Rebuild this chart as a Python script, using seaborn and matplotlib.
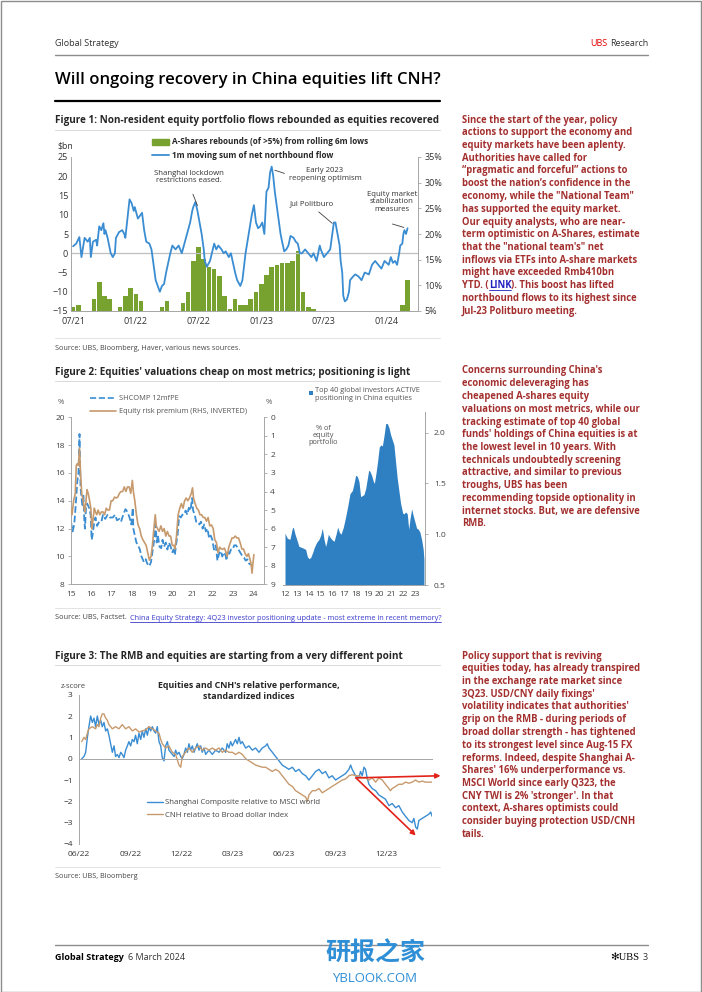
import matplotlib
matplotlib.use("Agg")
import matplotlib.pyplot as plt
from matplotlib.lines import Line2D
from matplotlib.patches import Patch, Rectangle
import seaborn as sns

# ---------------- Figure 1 data (x = months since Jul-21) ----------------
nb_flow = [(0.0, 1.8), (0.3, 2.5), (0.6, 4.2), (0.8, -1.0), (1.1, 4.0), (1.4, 3.0), (1.6, 4.0),
           (1.7, -1.0), (1.9, 3.0), (2.2, 3.5), (2.3, 2.0), (2.5, 7.0), (2.7, 6.0), (2.9, 7.8),
           (3.0, 5.0), (3.1, 6.0), (3.3, 4.0), (3.6, 0.0), (3.8, -1.0), (4.0, 0.0), (4.1, 4.0),
           (4.4, 5.5), (4.7, 6.0), (4.9, 5.0), (5.0, 4.0), (5.4, 14.0), (5.6, 13.0), (5.8, 11.0),
           (5.9, 12.0), (6.2, 9.0), (6.6, 10.5), (6.8, 6.0), (7.0, 3.0), (7.3, 2.5), (7.5, 1.0),
           (7.7, -3.0), (7.9, -7.0), (8.3, -10.0), (8.5, -8.5), (8.7, -8.0), (8.9, -5.0), (9.3, 0.0),
           (9.5, 2.0), (9.8, 1.0), (10.1, 2.0), (10.4, 0.0), (10.6, 2.0), (11.0, 6.0), (11.2, 8.0),
           (11.4, 11.0), (11.5, 12.0), (11.7, 13.3), (11.9, 11.0), (12.1, 8.0), (12.3, 5.0),
           (12.5, 1.0), (12.6, -2.0), (12.8, -3.5), (13.1, -2.0), (13.5, 2.5), (13.7, 1.0),
           (13.9, 2.0), (14.2, 1.0), (14.4, 0.0), (14.6, 0.5), (14.9, -1.0), (15.1, 0.0),
           (15.5, -5.0), (15.7, -7.0), (16.0, -8.5), (16.2, -7.0), (16.5, 0.0), (16.8, 5.0),
           (17.1, 10.0), (17.3, 12.5), (17.5, 8.0), (17.7, 6.5), (17.9, 7.0), (18.1, 8.0),
           (18.3, 5.0), (18.5, 16.0), (18.7, 17.0), (18.85, 21.0), (19.0, 22.5), (19.15, 20.0),
           (19.3, 16.0), (19.5, 12.0), (19.7, 8.0), (19.85, 5.0), (20.0, 3.0), (20.2, 0.5),
           (20.4, 1.0), (20.6, 2.0), (20.8, 4.5), (21.1, 4.0), (21.3, 3.0), (21.5, 2.5),
           (21.7, 0.0), (21.9, 0.0), (22.2, 1.0), (22.5, 0.0), (22.8, -1.0), (23.0, 0.0),
           (23.3, -2.0), (23.6, 2.0), (23.7, 1.0), (24.0, -1.0), (24.3, 0.0), (24.6, 1.0),
           (24.8, 5.0), (24.95, 8.0), (25.1, 8.0), (25.3, 5.0), (25.5, 2.0), (25.6, -2.0),
           (25.75, -5.0), (25.85, -11.0), (26.0, -12.5), (26.2, -12.0), (26.4, -10.0),
           (26.5, -7.0), (26.8, -6.0), (27.0, -5.5), (27.3, -6.0), (27.6, -7.0), (27.9, -5.0),
           (28.3, -5.5), (28.6, -3.0), (28.9, -2.0), (29.2, -3.0), (29.5, -4.0), (29.8, -2.0),
           (30.2, -3.0), (30.4, -1.0), (30.6, -2.5), (30.8, -2.0), (31.0, -3.0), (31.2, 0.0),
           (31.3, 2.0), (31.5, 2.5), (31.6, 5.0), (31.7, 6.0), (31.85, 5.0), (32.0, 6.5)]

rebound_month = [0.0, 0.5, 2.0, 2.5, 3.0, 3.5, 4.5, 5.0, 5.5, 6.0, 6.5, 8.5, 9.0, 10.5, 11.0,
                 11.5, 12.0, 12.5, 13.0, 13.5, 14.0, 14.5, 15.0, 15.5, 16.0, 16.5, 17.0, 17.5,
                 18.0, 18.5, 19.0, 19.5, 20.0, 20.5, 21.0, 21.5, 22.0, 22.5, 23.0, 31.5, 32.0]
rebound_pct = [5.75, 6.1, 7.25, 10.6, 8.0, 7.25, 5.75, 8.0, 9.5, 8.4, 6.9, 5.75, 6.9, 6.5, 8.75,
               14.75, 17.4, 15.1, 13.6, 13.25, 11.75, 8.0, 5.4, 7.25, 6.1, 6.1, 7.25, 8.75,
               10.25, 12.1, 13.6, 14.0, 14.4, 14.4, 14.75, 16.6, 8.75, 5.75, 5.4, 6.1, 11.0]

fig1_ticks = [0, 6, 12, 18, 24, 30]
fig1_labels = ["07/21", "01/22", "07/22", "01/23", "07/23", "01/24"]

# ---------------- Figure 2 data (x = year, 15 = 2015) ----------------
shcomp_pe = [(15.0, 12.5), (15.05, 12.0), (15.08, 11.8), (15.16, 12.3), (15.24, 13.8), (15.31, 15.4),
             (15.37, 16.0), (15.42, 18.8), (15.47, 15.0), (15.5, 14.5), (15.56, 13.7), (15.61, 14.5),
             (15.66, 12.5), (15.69, 12.0), (15.74, 13.5), (15.8, 13.8), (15.89, 13.5), (15.97, 13.0),
             (16.02, 11.2), (16.06, 11.5), (16.15, 12.5), (16.21, 12.8), (16.29, 12.2), (16.39, 12.5),
             (16.5, 12.5), (16.58, 13.0), (16.69, 12.7), (16.81, 13.0), (16.92, 12.8), (17.06, 12.8),
             (17.18, 13.0), (17.27, 12.6), (17.39, 12.7), (17.47, 12.5), (17.58, 13.0), (17.69, 13.4),
             (17.79, 13.2), (17.89, 12.8), (17.98, 12.3), (18.05, 13.5), (18.08, 12.0), (18.15, 11.5),
             (18.23, 11.0), (18.31, 10.8), (18.4, 10.5), (18.48, 10.0), (18.6, 9.6), (18.69, 9.8),
             (18.76, 9.5), (18.87, 9.3), (18.95, 9.6), (19.02, 10.3), (19.11, 11.2), (19.18, 12.3),
             (19.23, 11.0), (19.29, 11.5), (19.37, 10.7), (19.45, 10.6), (19.52, 11.2), (19.6, 10.7),
             (19.68, 11.0), (19.76, 10.5), (19.84, 11.0), (19.92, 10.7), (20.0, 10.3), (20.06, 10.5),
             (20.13, 10.1), (20.18, 10.8), (20.26, 11.5), (20.34, 12.9), (20.42, 12.8), (20.5, 13.0),
             (20.58, 13.0), (20.66, 13.3), (20.74, 13.0), (20.82, 13.5), (20.9, 13.3), (20.98, 14.2),
             (21.03, 13.3), (21.11, 13.0), (21.18, 12.5), (21.26, 12.5), (21.34, 12.3), (21.42, 12.5),
             (21.5, 12.0), (21.58, 12.3), (21.66, 11.8), (21.74, 12.0), (21.82, 11.3), (21.9, 11.5),
             (21.98, 11.2), (22.06, 10.5), (22.15, 10.8), (22.23, 9.7), (22.31, 10.2), (22.39, 10.4),
             (22.47, 10.0), (22.55, 10.3), (22.63, 10.1), (22.68, 9.7), (22.74, 10.4), (22.82, 10.2),
             (22.9, 10.5), (22.98, 10.5), (23.06, 10.8), (23.15, 10.8), (23.23, 10.6), (23.31, 10.4),
             (23.39, 10.2), (23.47, 10.0), (23.55, 9.9), (23.63, 9.7), (23.71, 9.8), (23.79, 9.5),
             (23.87, 9.4)]

erp_inv = [(15.0, 4.9), (15.05, 5.25), (15.13, 4.5), (15.21, 4.1), (15.26, 2.6), (15.31, 2.5),
           (15.37, 2.6), (15.42, 1.65), (15.47, 3.0), (15.53, 4.1), (15.6, 4.5), (15.65, 4.9),
           (15.69, 5.1), (15.74, 4.5), (15.79, 3.9), (15.85, 4.1), (15.92, 4.5), (15.98, 4.9),
           (16.03, 6.0), (16.08, 5.6), (16.15, 4.9), (16.21, 5.1), (16.27, 5.25), (16.34, 5.0),
           (16.42, 5.25), (16.5, 5.1), (16.58, 5.1), (16.66, 5.25), (16.74, 4.9), (16.82, 5.0),
           (16.9, 5.0), (16.98, 4.5), (17.06, 4.5), (17.15, 4.3), (17.23, 4.35), (17.31, 4.3),
           (17.39, 4.1), (17.47, 4.0), (17.55, 4.0), (17.63, 3.75), (17.71, 4.0), (17.79, 3.75),
           (17.87, 3.75), (17.95, 4.1), (18.03, 3.4), (18.08, 4.0), (18.15, 4.5), (18.23, 5.25),
           (18.31, 5.8), (18.39, 6.0), (18.47, 6.4), (18.55, 6.6), (18.63, 6.75), (18.71, 6.9),
           (18.79, 7.3), (18.87, 7.7), (18.95, 7.5), (19.02, 6.9), (19.08, 6.15), (19.16, 5.25),
           (19.21, 5.85), (19.27, 6.0), (19.35, 6.15), (19.44, 5.85), (19.52, 6.15), (19.6, 6.0),
           (19.68, 6.4), (19.76, 6.15), (19.84, 6.4), (19.92, 6.4), (20.0, 6.9), (20.08, 6.9),
           (20.13, 7.1), (20.21, 6.4), (20.29, 5.25), (20.37, 4.9), (20.45, 4.65), (20.53, 4.9),
           (20.61, 4.5), (20.69, 4.35), (20.77, 4.5), (20.85, 4.35), (20.94, 4.1), (21.0, 3.8),
           (21.05, 4.35), (21.13, 4.65), (21.21, 4.9), (21.29, 5.0), (21.37, 5.25), (21.45, 5.25),
           (21.53, 5.4), (21.61, 5.4), (21.69, 5.6), (21.77, 5.4), (21.85, 5.85), (21.94, 5.8),
           (22.02, 6.0), (22.1, 6.6), (22.18, 6.75), (22.26, 7.3), (22.34, 7.0), (22.42, 7.1),
           (22.5, 7.1), (22.58, 7.05), (22.66, 7.3), (22.71, 7.5), (22.79, 7.0), (22.87, 6.75),
           (22.95, 6.5), (23.03, 6.5), (23.11, 6.4), (23.19, 6.5), (23.27, 6.5), (23.35, 6.75),
           (23.44, 7.1), (23.52, 7.1), (23.6, 7.35), (23.68, 7.5), (23.76, 7.35), (23.84, 7.65),
           (23.89, 7.9), (23.94, 8.4), (23.98, 7.9), (24.03, 7.4)]

top40_pos = [(12.0, 1.01), (12.2, 0.96), (12.42, 0.95), (12.62, 1.06), (12.7, 1.07), (12.85, 1.0),
             (12.99, 0.95), (13.18, 0.88), (13.41, 0.87), (13.6, 0.86), (13.75, 0.85), (13.89, 0.78),
             (14.03, 0.76), (14.17, 0.77), (14.34, 0.82), (14.48, 0.87), (14.68, 0.92), (14.88, 0.95),
             (15.02, 0.99), (15.16, 1.06), (15.3, 0.95), (15.44, 0.88), (15.53, 0.92), (15.67, 1.0),
             (15.81, 0.97), (15.95, 0.95), (16.15, 0.93), (16.32, 1.0), (16.46, 1.07), (16.6, 1.02),
             (16.74, 1.0), (16.94, 1.07), (17.13, 1.17), (17.3, 1.27), (17.5, 1.4), (17.7, 1.43),
             (17.84, 1.5), (17.98, 1.58), (18.12, 1.57), (18.26, 1.52), (18.4, 1.37), (18.54, 1.38),
             (18.68, 1.39), (18.83, 1.45), (18.97, 1.55), (19.08, 1.63), (19.19, 1.62), (19.33, 1.58),
             (19.48, 1.52), (19.56, 1.5), (19.7, 1.6), (19.84, 1.72), (19.98, 1.86), (20.12, 1.88),
             (20.24, 1.87), (20.38, 1.97), (20.52, 2.09), (20.66, 2.09), (20.8, 2.05), (20.94, 1.98),
             (21.08, 1.93), (21.22, 1.88), (21.37, 1.7), (21.5, 1.55), (21.65, 1.42), (21.79, 1.3),
             (21.96, 1.21), (22.07, 1.2), (22.21, 1.22), (22.35, 1.2), (22.47, 1.05), (22.58, 1.15),
             (22.72, 1.25), (22.86, 1.18), (23.0, 1.12), (23.14, 1.06), (23.28, 1.05), (23.42, 1.02),
             (23.56, 0.95), (23.7, 0.85), (23.76, 0.75)]

fig2_left_years = [15, 16, 17, 18, 19, 20, 21, 22, 23, 24]
fig2_right_years = [12, 13, 14, 15, 16, 17, 18, 19, 20, 21, 22, 23]

# ---------------- Figure 3 data (x = months since Jun-22, z-scores) ----------------
sh_rel = [(0.16, 0.0), (0.29, 0.1), (0.39, 0.3), (0.49, 1.0), (0.58, 1.5), (0.68, 2.0), (0.78, 1.7),
          (0.88, 1.9), (0.97, 1.5), (1.07, 2.0), (1.17, 1.6), (1.27, 1.8), (1.36, 1.5), (1.46, 1.7),
          (1.56, 1.3), (1.66, 1.4), (1.75, 1.1), (1.85, 0.7), (1.95, 0.3), (2.05, 0.6), (2.14, 0.1),
          (2.24, 0.2), (2.34, 0.05), (2.44, 0.3), (2.53, 0.2), (2.63, 0.05), (2.73, 0.4), (2.83, 0.6),
          (2.92, 0.8), (3.02, 0.6), (3.12, 0.9), (3.22, 0.8), (3.31, 1.1), (3.41, 0.7), (3.51, 1.2),
          (3.61, 0.9), (3.70, 1.3), (3.80, 1.0), (3.90, 1.4), (4.0, 1.1), (4.09, 1.5), (4.19, 1.3),
          (4.29, 1.5), (4.39, 1.3), (4.48, 1.2), (4.58, 1.5), (4.68, 0.8), (4.78, 0.6), (4.87, 0.05),
          (4.97, -0.1), (5.07, 0.6), (5.17, 0.8), (5.26, 0.4), (5.36, 0.3), (5.46, 0.2), (5.56, 0.1),
          (5.65, 0.4), (5.75, 0.2), (5.85, 0.3), (5.95, 0.1), (6.04, 0.0), (6.14, 0.2), (6.24, 0.5),
          (6.34, 0.3), (6.43, 0.7), (6.53, 0.4), (6.63, 0.6), (6.73, 0.3), (6.82, 0.5), (6.92, 0.7),
          (7.02, 0.4), (7.12, 0.6), (7.21, 0.3), (7.31, 0.5), (7.41, 0.2), (7.60, 0.4), (7.80, 0.2),
          (7.99, 0.4), (8.19, 0.3), (8.38, 0.5), (8.58, 0.3), (8.67, 0.7), (8.77, 0.5), (8.87, 0.8),
          (8.97, 0.6), (9.16, 0.9), (9.26, 0.7), (9.36, 1.0), (9.45, 0.7), (9.55, 0.8), (9.75, 0.5),
          (9.94, 0.6), (10.14, 0.4), (10.33, 0.5), (10.53, 0.3), (10.72, 0.5), (10.92, 0.6),
          (11.01, 0.7), (11.11, 0.5), (11.31, 0.3), (11.50, 0.1), (11.70, -0.1), (11.89, -0.3),
          (12.09, -0.4), (12.28, -0.5), (12.48, -0.4), (12.67, -0.6), (12.87, -0.5), (13.06, -0.7),
          (13.26, -0.8), (13.45, -1.0), (13.65, -0.8), (13.84, -0.6), (14.04, -0.5), (14.23, -0.7),
          (14.42, -0.6), (14.62, -0.9), (14.81, -0.8), (15.01, -1.0), (15.20, -0.9), (15.40, -0.8),
          (15.59, -0.7), (15.79, -0.5), (15.89, -0.3), (15.98, -0.5), (16.18, -0.8), (16.37, -0.9),
          (16.47, -0.6), (16.57, -0.8), (16.67, -0.4), (16.76, -0.5), (16.86, -0.9), (16.96, -1.2),
          (17.15, -1.4), (17.35, -1.5), (17.54, -1.7), (17.74, -1.8), (17.93, -1.9), (18.13, -2.2),
          (18.32, -2.1), (18.52, -2.3), (18.71, -2.2), (18.91, -2.5), (19.10, -2.7), (19.30, -2.9),
          (19.49, -3.0), (19.59, -2.8), (19.69, -3.2), (19.79, -3.3), (19.88, -2.9), (20.08, -2.8),
          (20.27, -2.7), (20.47, -2.6), (20.57, -2.5), (20.66, -2.7)]

cnh_rel = [(0.16, 0.8), (0.29, 1.0), (0.39, 0.9), (0.49, 1.2), (0.58, 1.4), (0.78, 1.5), (0.97, 1.4),
           (1.07, 1.6), (1.17, 1.5), (1.27, 1.9), (1.36, 2.1), (1.46, 2.1), (1.56, 1.9), (1.66, 1.8),
           (1.75, 1.6), (1.85, 1.5), (1.95, 1.4), (2.14, 1.5), (2.34, 1.4), (2.53, 1.6), (2.73, 1.4),
           (2.92, 1.5), (3.12, 1.3), (3.31, 1.4), (3.51, 1.25), (3.70, 1.3), (3.90, 1.35), (4.09, 1.5),
           (4.29, 1.4), (4.48, 1.3), (4.68, 1.2), (4.78, 0.9), (4.87, 0.7), (5.07, 0.5), (5.26, 0.6),
           (5.46, 0.3), (5.65, 0.2), (5.85, -0.3), (5.95, -0.4), (6.04, 0.1), (6.24, 0.3), (6.43, 0.5),
           (6.63, 0.3), (6.82, 0.5), (7.02, 0.6), (7.21, 0.4), (7.41, 0.5), (7.60, 0.4), (7.80, 0.5),
           (7.99, 0.4), (8.19, 0.5), (8.38, 0.3), (8.58, 0.4), (8.77, 0.3), (8.97, 0.3), (9.16, 0.2),
           (9.36, 0.3), (9.55, 0.2), (9.75, 0.0), (9.94, -0.1), (10.14, -0.2), (10.33, -0.3),
           (10.53, -0.35), (10.72, -0.4), (10.92, -0.4), (11.11, -0.5), (11.31, -0.6), (11.50, -0.5),
           (11.70, -0.6), (11.89, -0.8), (12.09, -1.0), (12.28, -1.2), (12.48, -1.3), (12.67, -1.5),
           (12.87, -1.6), (13.06, -1.7), (13.26, -1.8), (13.36, -2.0), (13.45, -1.7), (13.65, -1.5),
           (13.84, -1.5), (14.04, -1.4), (14.23, -1.6), (14.42, -1.5), (14.62, -1.4), (14.81, -1.3),
           (15.01, -1.2), (15.20, -1.1), (15.40, -1.0), (15.59, -0.95), (15.79, -0.8), (15.98, -0.75),
           (16.18, -0.8), (16.37, -0.8), (16.57, -0.9), (16.76, -0.9), (16.96, -1.0), (17.15, -0.9),
           (17.35, -1.1), (17.54, -0.9), (17.74, -1.0), (17.93, -1.2), (18.13, -1.4), (18.22, -1.5),
           (18.32, -1.4), (18.52, -1.3), (18.71, -1.2), (18.91, -1.2), (19.10, -1.1), (19.30, -1.15),
           (19.49, -1.1), (19.69, -1.0), (19.88, -1.1), (20.08, -1.05), (20.27, -1.1), (20.47, -1.1),
           (20.66, -1.1)]

fig3_ticks = [0, 3, 6, 9, 12, 15, 18]
fig3_labels = ["06/22", "09/22", "12/22", "03/23", "06/23", "09/23", "12/23"]

# ---------------- text ----------------
para1 = ["Since the start of the year, policy",
         "actions to support the economy and",
         "equity markets have been aplenty.",
         "Authorities have called for",
         "\u201cpragmatic and forceful\u201d actions to",
         "boost the nation\u2019s confidence in the",
         "economy, while the \"National Team\"",
         "has supported the equity market.",
         "Our equity analysts, who are near-",
         "term optimistic on A-Shares, estimate",
         "that the \"national team's\" net",
         "inflows via ETFs into A-share markets",
         "might have exceeded Rmb410bn",
         "YTD. ([LINK]). This boost has lifted",
         "northbound flows to its highest since",
         "Jul-23 Politburo meeting."]
para2 = ["Concerns surrounding China's",
         "economic deleveraging has",
         "cheapened A-shares equity",
         "valuations on most metrics, while our",
         "tracking estimate of top 40 global",
         "funds' holdings of China equities is at",
         "the lowest level in 10 years. With",
         "technicals undoubtedly screening",
         "attractive, and similar to previous",
         "troughs, UBS has been",
         "recommending topside optionality in",
         "internet stocks. But, we are defensive",
         "RMB."]
para3 = ["Policy support that is reviving",
         "equities today, has already transpired",
         "in the exchange rate market since",
         "3Q23. USD/CNY daily fixings'",
         "volatility indicates that authorities'",
         "grip on the RMB - during periods of",
         "broad dollar strength - has tightened",
         "to its strongest level since Aug-15 FX",
         "reforms. Indeed, despite Shanghai A-",
         "Shares' 16% underperformance vs.",
         "MSCI World since early Q323, the",
         "CNY TWI is 2% 'stronger'. In that",
         "context, A-shares optimists could",
         "consider buying protection USD/CNH",
         "tails."]

# ---------------- style ----------------
sns.set_style("white")
plt.rcParams['font.family'] = ['Open Sans', 'DejaVu Sans']

GREEN = "#78A22F"
BLUE = "#3A8DD2"
AREA = "#2F80C3"
BROWN = "#C79A6E"
MAROON = "#A3302F"
GRID = "#A6A6A6"
TXT = "#333333"

W, H = 702, 992
fig = plt.figure(figsize=(W / 100, H / 100), dpi=100)
renderer = fig.canvas.get_renderer()


def X(px):
    return px / W


def Y(py):
    return 1 - py / H


def box(x0, y0, x1, y1):
    return fig.add_axes([X(x0), Y(y1), (x1 - x0) / W, (y1 - y0) / H])


def text(x, y, s, **kw):
    kw.setdefault('va', 'center')
    return fig.text(X(x), Y(y), s, **kw)


def hline(x0, x1, y, color, lw):
    fig.add_artist(Line2D([X(x0), X(x1)], [Y(y), Y(y)], color=color, lw=lw))


def rich(x, y, parts, gap=0, **kw):
    # parts: list of (string, extra kwargs, underline?)
    for s, extra, under in parts:
        t = text(x, y, s, **{**kw, **extra})
        bb = t.get_window_extent(renderer=renderer)
        if under:
            hline(bb.x0, bb.x1, y + 4.4, extra.get('color', 'k'), 0.6)
        x = bb.x1 + gap


def style_axis(ax, size=6):
    for s in ['top', 'right', 'left', 'bottom']:
        ax.spines[s].set_color(GRID)
        ax.spines[s].set_linewidth(0.7)
    ax.tick_params(labelsize=size, labelcolor=TXT, color=GRID, width=0.6, length=2.5, pad=2)
    ax.set_xlabel("")
    ax.set_ylabel("")


# page frame
fig.add_artist(Rectangle((0.5 / W, 0.5 / H), (W - 1.5) / W, (H - 1.5) / H, transform=fig.transFigure,
                         fill=False, edgecolor="#8C8C8C", lw=1.0))

# header
text(55, 44, "Global Strategy", fontsize=6.5, color=TXT)
t = text(648, 44, "Research", fontsize=6.5, color=TXT, ha='right')
bb = t.get_window_extent(renderer=renderer)
text(bb.x0 - 2, 44, "UBS", fontsize=6.5, color="#E60000", ha='right')
hline(55, 648, 55, "#8C8C8C", 1.0)
text(55, 80, "Will ongoing recovery in China equities lift CNH?", fontsize=12, fontweight='semibold',
     color='black')
hline(55, 440, 100.5, "black", 1.6)

# ============ Figure 1 ============
text(55, 120, "Figure 1: Non-resident equity portfolio flows rebounded as equities recovered",
     fontsize=7.1, fontweight='bold')
hline(55, 440, 130, "#D9D9D9", 0.7)

ax1 = box(71, 157, 418, 311)
ax1r = ax1.twinx()
ax1r.bar(rebound_month, rebound_pct, width=0.44, color=GREEN, linewidth=0)
ax1r.set_ylim(5, 35)
ax1r.set_yticks([5, 10, 15, 20, 25, 30, 35])
ax1r.set_yticklabels([f"{v}%" for v in [5, 10, 15, 20, 25, 30, 35]])
sns.lineplot(x=[m for m, _ in nb_flow], y=[v for _, v in nb_flow], ax=ax1, color=BLUE, lw=1.3,
             estimator=None, sort=False)
ax1.axhline(0, color="#BFBFBF", lw=0.9, zorder=0)
ax1.set_ylim(-15, 25)
ax1.set_yticks(range(-15, 30, 5))
ax1.set_xlim(-0.2, 33.0)
ax1.set_xticks(fig1_ticks)
ax1.set_xticklabels(fig1_labels)
ax1.set_zorder(ax1r.get_zorder() + 1)
ax1.patch.set_visible(False)
style_axis(ax1, 6.5)
style_axis(ax1r, 6.5)
sns.despine(ax=ax1, top=True, right=True)
ax1r.spines['left'].set_visible(False)
ax1r.spines['top'].set_visible(False)
ax1r.spines['bottom'].set_visible(False)
ax1.tick_params(axis='y', length=0)
ax1.tick_params(axis='x', length=2.5)

note_kw = dict(fontsize=5.6, color=TXT, ha='center', va='center', linespacing=1.1)
line_kw = dict(arrowstyle='-', color="#404040", lw=0.6)
ax1.text(11.1, 19.8, "Shanghai lockdown\nrestrictions eased.", **note_kw)
ax1.annotate("", xy=(12.0, 11.7), xytext=(11.37, 16.0), arrowprops=line_kw)
ax1.text(24.1, 20.5, "Early 2023\nreopening optimism", **note_kw)
ax1.annotate("", xy=(19.05, 21.8), xytext=(20.48, 20.5), arrowprops=line_kw)
ax1.text(22.8, 12.8, "Jul Politburo", **note_kw)
ax1.annotate("", xy=(25.0, 7.3), xytext=(23.3, 11.2), arrowprops=line_kw)
ax1.text(30.5, 13.4, "Equity market\nstabilization\nmeasures", **note_kw)
ax1.annotate("", xy=(31.9, 6.5), xytext=(30.3, 7.8), arrowprops=line_kw)

ax1.legend([Patch(color=GREEN), Line2D([], [], color=BLUE, lw=1.3)],
           ["A-Shares rebounds (of >5%) from rolling 6m lows", "1m moving sum of net northbound flow"],
           loc='upper left', bbox_to_anchor=(X(152), Y(137.5)), bbox_transform=fig.transFigure,
           frameon=False, prop={'size': 5.9, 'weight': 'bold'}, handlelength=2.1, handleheight=0.75,
           handletextpad=0.3, labelspacing=0.55, borderpad=0, borderaxespad=0)
text(57, 146, "$bn", fontsize=6.3, color=TXT)

hline(55, 440, 338, "#E3E3E3", 0.7)
text(55, 348, "Source: UBS, Bloomberg, Haver, various news sources.", fontsize=5.2, color="#444444")

# ============ Figure 2 ============
text(55, 372, "Figure 2: Equities' valuations cheap on most metrics; positioning is light",
     fontsize=7.1, fontweight='bold')
hline(55, 440, 380.5, "#D9D9D9", 0.7)

ax2 = box(71, 417.3, 264, 584.3)
sns.lineplot(x=[y for y, _ in shcomp_pe], y=[v for _, v in shcomp_pe], ax=ax2, color=BLUE, lw=1.3,
             linestyle='--', estimator=None, sort=False)
ax2.set_xlim(15, 24.53)
ax2.set_ylim(8, 20)
ax2.set_yticks(range(8, 22, 2))
ax2.set_xticks(fig2_left_years)
ax2.set_xticklabels([str(v) for v in fig2_left_years])
ax2r = ax2.twinx()
sns.lineplot(x=[y for y, _ in erp_inv], y=[v for _, v in erp_inv], ax=ax2r, color=BROWN, lw=1.2,
             estimator=None, sort=False)
ax2r.set_ylim(9, 0)
ax2r.set_yticks(range(0, 10))
style_axis(ax2, 6)
style_axis(ax2r, 6)
for a in (ax2, ax2r):
    a.spines['top'].set_visible(False)
    a.tick_params(labelcolor="#444444")
ax2.spines['right'].set_visible(False)
ax2r.spines['left'].set_visible(False)
ax2r.spines['bottom'].set_visible(False)
ax2.legend([Line2D([], [], color=BLUE, lw=1.2, ls='--'), Line2D([], [], color=BROWN, lw=1.2)],
           ["SHCOMP 12mfPE", "Equity risk premium (RHS, INVERTED)"],
           loc='upper left', bbox_to_anchor=(X(90), Y(395)), bbox_transform=fig.transFigure,
           frameon=False, fontsize=5.3, labelcolor="#555555", handlelength=3.6,
           handletextpad=0.35, labelspacing=0.8, borderpad=0, borderaxespad=0)
text(58, 402, "%", fontsize=5.5, color="#555555")
text(266, 402, "%", fontsize=5.5, color="#555555")

ax3 = box(283, 412.4, 425, 585)
ax3.fill_between([y for y, _ in top40_pos], 0, [v for _, v in top40_pos], color=AREA, lw=0)
ax3.set_xlim(11.83, 23.85)
ax3.set_ylim(0.5, 2.2)
ax3.set_yticks([0.5, 1.0, 1.5, 2.0])
ax3.set_yticklabels(["0.5", "1.0", "1.5", "2.0"])
ax3.set_xticks(fig2_right_years)
ax3.set_xticklabels([str(v) for v in fig2_right_years])
ax3.yaxis.tick_right()
style_axis(ax3, 6)
ax3.tick_params(labelcolor="#444444")
ax3.tick_params(axis='y', pad=4)
ax3.spines['left'].set_visible(False)
ax3.spines['top'].set_visible(False)
fig.add_artist(Rectangle((X(309), Y(395)), 4 / W, 4 / H, transform=fig.transFigure, color=AREA, lw=0))
text(315, 387, "Top 40 global investors ACTIVE\npositioning in China equities", fontsize=5.3,
     color="#555555", va='top', linespacing=1.15)
text(323, 425, "% of\nequity\nportfolio", fontsize=5.3, color="#555555", ha='center', va='top',
     linespacing=1.05)

hline(55, 440, 608, "#E3E3E3", 0.7)
rich(55, 618, [("Source: UBS, Factset.", {'color': "#444444"}, False),
               ("China Equity Strategy: 4Q23 investor positioning update - most extreme in recent memory?",
                {'color': "#3A3ACC"}, True)], gap=3, fontsize=5.3)

# ============ Figure 3 ============
text(55, 656, "Figure 3: The RMB and equities are starting from a very different point",
     fontsize=7.1, fontweight='bold')
hline(55, 440, 665, "#D9D9D9", 0.7)

ax4 = box(79, 694.7, 432, 844)
sns.lineplot(x=[m for m, _ in sh_rel], y=[v for _, v in sh_rel], ax=ax4, color=BLUE, lw=1.0,
             estimator=None, sort=False)
sns.lineplot(x=[m for m, _ in cnh_rel], y=[v for _, v in cnh_rel], ax=ax4, color=BROWN, lw=1.0,
             estimator=None, sort=False)
ax4.set_xlim(0, 20.65)
ax4.set_ylim(-4, 3)
ax4.set_yticks(range(-4, 4))
style_axis(ax4, 6)
ax4.spines['top'].set_visible(False)
ax4.spines['right'].set_visible(False)
ax4.spines['bottom'].set_position(('data', 0))
ax4.set_xticks(fig3_ticks)
ax4.tick_params(axis='x', labelbottom=False, length=2.5)
sec = ax4.secondary_xaxis('bottom')
sec.set_xticks(fig3_ticks)
sec.set_xticklabels(fig3_labels)
sec.spines['bottom'].set_visible(False)
sec.tick_params(length=0, labelsize=6, labelcolor=TXT, pad=5)

red_kw = dict(arrowstyle='-|>', color="#E2231A", lw=1.2, mutation_scale=7, shrinkA=0, shrinkB=0)
ax4.annotate("", xy=(21.15, -0.8), xytext=(16.2, -0.9), arrowprops=red_kw, annotation_clip=False)
ax4.annotate("", xy=(19.7, -3.6), xytext=(16.2, -0.9), arrowprops=red_kw, annotation_clip=False)

ax4.legend([Line2D([], [], color=BLUE, lw=1.0), Line2D([], [], color=BROWN, lw=1.0)],
           ["Shanghai Composite relative to MSCI world", "CNH relative to Broad dollar index"],
           loc='upper left', bbox_to_anchor=(X(147), Y(799)), bbox_transform=fig.transFigure,
           frameon=False, fontsize=5.6, labelcolor="#444444", handlelength=2.0,
           handletextpad=0.3, labelspacing=0.6, borderpad=0, borderaxespad=0)
text(249, 691, "Equities and CNH's relative performance,\nstandardized indices", fontsize=6.4,
     fontweight='bold', ha='center', linespacing=1.25)
text(61, 687, "z-score", fontsize=5.5, color="#444444")

hline(55, 440, 867, "#E3E3E3", 0.7)
text(55, 877, "Source: UBS, Bloomberg", fontsize=5.2, color="#444444")

# ============ right column commentary ============
for y0, lines in [(120, para1), (371, para2), (656, para3)]:
    for i, line in enumerate(lines):
        y = y0 + i * 12.75
        if "[LINK]" in line:
            a, b = line.split("[LINK]")
            rich(462, y, [(a, {}, False), ("LINK", {'color': "#2020C0"}, True), (b, {}, False)],
                 gap=0, fontsize=6.85, fontweight='bold', color=MAROON)
        else:
            text(462, y, line, fontsize=6.85, fontweight='bold', color=MAROON)

# ============ footer ============
hline(55, 648, 945, "#8C8C8C", 1.0)
rich(55, 957, [("Global Strategy", {'fontweight': 'bold', 'color': 'black'}, False),
               ("6 March 2024", {'color': TXT}, False)], gap=4, fontsize=6.5)
text(648, 957, "3", fontsize=6.5, color=TXT, ha='right')
text(639, 957, "\u273bUBS", fontsize=7.5, color='black', ha='right',
     family=['Liberation Serif', 'DejaVu Sans'])
text(375, 953, "研报之家", fontsize=18, color="#2F8FD6", ha='center', fontweight='bold',
     family=['Noto Sans CJK SC', 'DejaVu Sans'])
text(375, 979, "YBLOOK.COM", fontsize=9.5, color="#2F8FD6", ha='center')

fig.savefig("out.png", dpi=100)
